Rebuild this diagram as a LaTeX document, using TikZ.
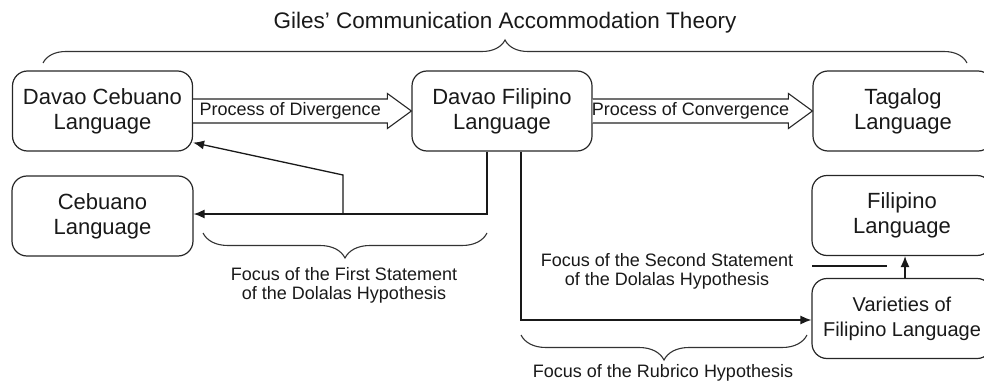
\documentclass[tikz,border=0pt]{standalone}
\usepackage{fontspec}
\setmainfont{Liberation Sans}
\usetikzlibrary{calc,decorations.pathreplacing,arrows.meta}
\begin{document}
\begin{tikzpicture}[x=1pt,y=-1pt,
  lbox/.style={draw=black!85,line width=1.2pt,rounded corners=15pt,minimum width=180pt,minimum height=80pt,inner sep=0pt,align=center,font=\fontsize{22}{25}\selectfont,text=black!90},
  blockarrow/.style={draw=black!85,line width=1.1pt,fill=white,line join=miter},
  arr/.style={draw=black!90,line width=1.3pt,-{Latex[length=11pt,width=9pt]}},
  plain/.style={draw=black!90,line width=1.3pt},
  smalltext/.style={font=\fontsize{18}{19}\selectfont,align=center,text=black!90,inner sep=0pt},
  bracedown/.style={draw=black!80,line width=1.1pt,decorate,decoration={brace,amplitude=25pt,mirror}},
  braceup/.style={draw=black!80,line width=1.1pt,decorate,decoration={brace,amplitude=23pt}}
]
\useasboundingbox (0,0) rectangle (984,385);

% title and top brace
\node[font=\fontsize{22.5}{25}\selectfont,text=black!90,inner sep=0pt] (title) at (505,23) {Giles’ Communication Accommodation Theory};
\coordinate (tb1) at (43,63);
\coordinate (tb2) at (967,63);
\draw[braceup] (tb1) -- (tb2);

% boxes
\node[lbox] (dc) at (102.5,111) {Davao Cebuano\\Language};
\node[lbox] (df) at (502,111) {Davao Filipino\\Language};
\node[lbox] (tg) at (903,111) {Tagalog\\Language};
\node[lbox,minimum width=181pt] (ceb) at (102.5,216) {Cebuano\\Language};
\node[lbox] (fil) at (902,215.5) {Filipino\\Language};
\node[lbox,font=\fontsize{20}{25}\selectfont] (var) at (902,318.5) {Varieties of\\Filipino Language};

% block arrows
\draw[blockarrow] ([yshift=-12pt]dc.east) -- ([xshift=-24pt,yshift=-12pt]df.west) -- ([xshift=-24pt,yshift=-17.5pt]df.west) -- (df.west) -- ([xshift=-24pt,yshift=17.5pt]df.west) -- ([xshift=-24pt,yshift=12pt]df.west) -- ([yshift=12pt]dc.east);
\node[smalltext] (pdiv) at ($(dc.east)!0.5!([xshift=-24pt]df.west)$) {Process of Divergence};
\draw[blockarrow] ([yshift=-12pt]df.east) -- ([xshift=-24pt,yshift=-12pt]tg.west) -- ([xshift=-24pt,yshift=-17.5pt]tg.west) -- (tg.west) -- ([xshift=-24pt,yshift=17.5pt]tg.west) -- ([xshift=-24pt,yshift=12pt]tg.west) -- ([yshift=12pt]df.east);
\node[smalltext] (pconv) at ($(df.east)!0.5!([xshift=-24pt]tg.west)$) {Process of Convergence};

% connectors
\coordinate (dfa) at ([xshift=-15pt]df.south);
\coordinate (dfb) at ([xshift=19pt]df.south);
\coordinate (cebin) at ([yshift=2pt]ceb.east);
\draw[arr] (dfa) |- (cebin);
\coordinate (j) at (343,214);
\coordinate (jt) at (343,175);
\draw[arr] (j) -- (jt) -- ([yshift=9pt]dc.south east);
\coordinate (varin) at ([yshift=-1.5pt]var.west);
\draw[arr] (dfb) |- (varin);
\draw[arr] ([xshift=3pt]var.north) -- ([xshift=3pt]fil.south);
\coordinate (s2a) at (812,266);
\coordinate (s2b) at (887,266);
\draw[plain] (s2a) -- (s2b);

% lower braces and labels
\coordinate (b1a) at (203,233);
\coordinate (b1b) at (487,233);
\draw[bracedown] (b1a) -- (b1b);
\node[smalltext] (f1) at (344,285) {Focus of the First Statement\\of the Dolalas Hypothesis};
\node[smalltext] (f2) at (667,271) {Focus of the Second Statement\\of the Dolalas Hypothesis};
\coordinate (b2a) at (521,335);
\coordinate (b2b) at (807,335);
\draw[bracedown] (b2a) -- (b2b);
\node[smalltext] (f3) at (663,373) {Focus of the Rubrico Hypothesis};
\end{tikzpicture}
\end{document}
